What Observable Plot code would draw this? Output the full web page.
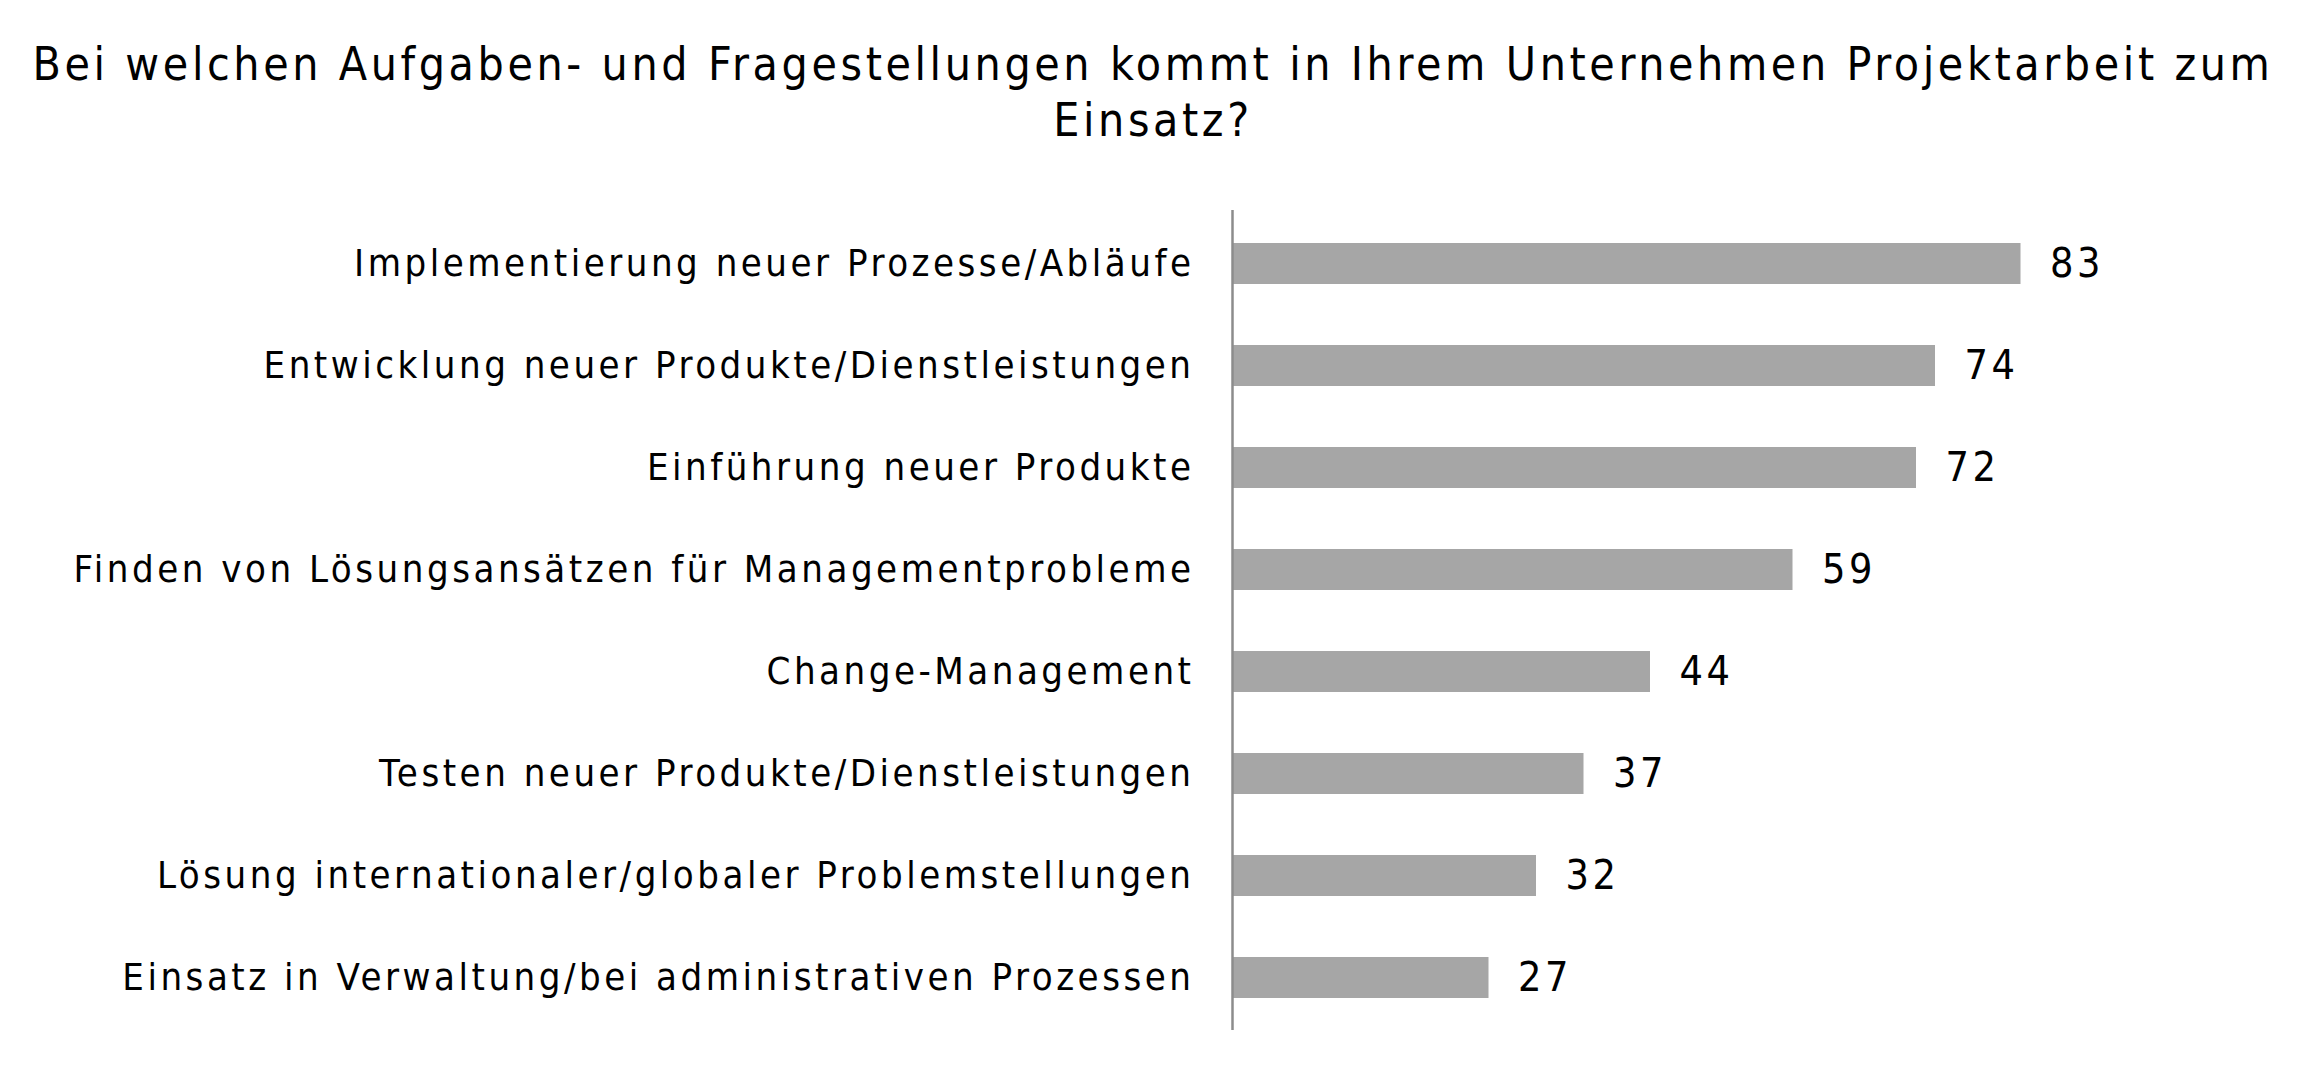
<!DOCTYPE html>
<html>
<head>
<meta charset="utf-8">
<script src="https://cdn.jsdelivr.net/npm/d3@7"></script>
<script src="https://cdn.jsdelivr.net/npm/@observablehq/plot@0.6"></script>
<style>
  html, body { margin: 0; padding: 0; background: #fff; }
  body { width: 2306px; height: 1076px; overflow: hidden; font-family: "DejaVu Sans Condensed", "DejaVu Sans", sans-serif; }
  #title { height: 170px; box-sizing: border-box; padding-top: 36px; text-align: center; font-size: 46px; line-height: 56px; letter-spacing: 3.6px; color: #000; }
  #chart svg { display: block; }
</style>
</head>
<body>
<div id="title">Bei welchen Aufgaben- und Fragestellungen kommt in Ihrem Unternehmen Projektarbeit zum<br>Einsatz?</div>
<div id="chart"></div>
<script>
const categories = [
  "Implementierung neuer Prozesse/Abläufe",
  "Entwicklung neuer Produkte/Dienstleistungen",
  "Einführung neuer Produkte",
  "Finden von Lösungsansätzen für Managementprobleme",
  "Change-Management",
  "Testen neuer Produkte/Dienstleistungen",
  "Lösung internationaler/globaler Problemstellungen",
  "Einsatz in Verwaltung/bei administrativen Prozessen"
];
const values = [83, 74, 72, 59, 44, 37, 32, 27];

const data = categories.map((c, i) => ({category: c, value: values[i]}));

const fontFamily = '"DejaVu Sans Condensed", "DejaVu Sans", sans-serif';

const chart = Plot.plot({
  width: 2306,
  height: 906,
  marginLeft: 1232,
  marginRight: 124,
  marginTop: 40,
  marginBottom: 46,
  style: {fontFamily, color: "#000", background: "#fff", letterSpacing: "3.5px"},
  x: {domain: [0, 100], axis: null},
  y: {domain: categories, paddingInner: 0.6, paddingOuter: 0.3, label: null},
  marks: [
    Plot.barX(data, {x: "value", y: "category", fill: "#a6a6a6"}),
    Plot.ruleX([0], {stroke: "#8c8c8c", strokeWidth: 2.5}),
    Plot.axisY({tickSize: 0, tickPadding: 38, fontSize: 38, fill: "#000", label: null, stroke: "none"}),
    Plot.text(data, {x: "value", y: "category", text: d => String(d.value), dx: 29, textAnchor: "start", fontSize: 41, fill: "#000"})
  ]
});
document.getElementById("chart").appendChild(chart);
</script>
</body>
</html>
